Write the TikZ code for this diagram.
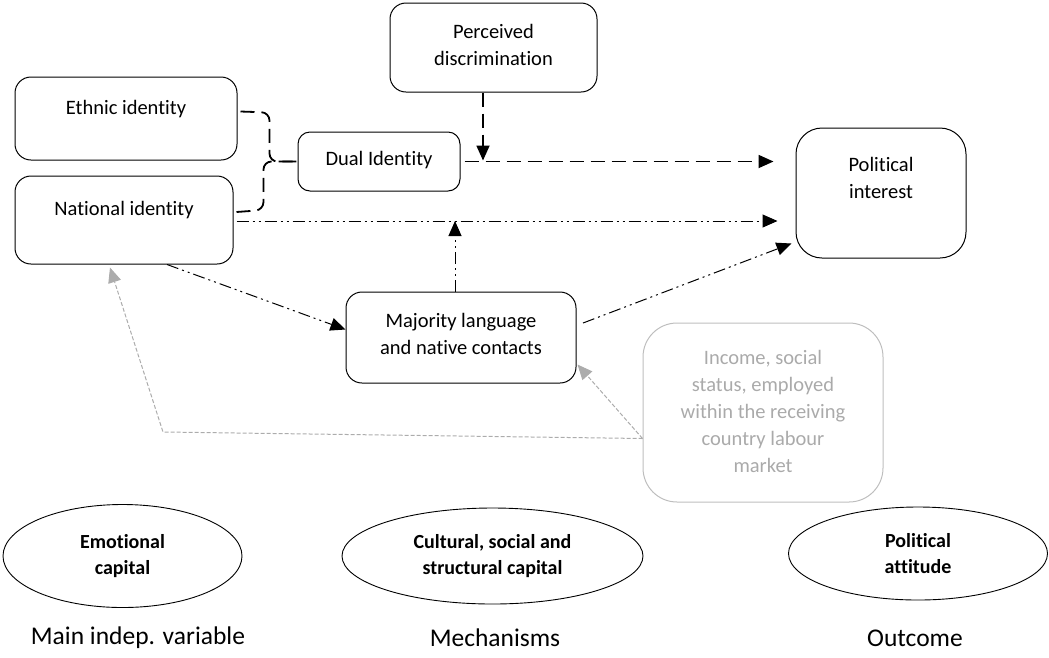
\documentclass[tikz,border=0pt]{standalone}
\usepackage{fontspec}
\setmainfont{Carlito}[Ligatures={NoCommon}]
\usetikzlibrary{arrows.meta,shapes.geometric}

\definecolor{linkgray}{RGB}{172,172,172}
\definecolor{softgray}{RGB}{190,190,190}
\definecolor{softtext}{RGB}{170,170,170}

\begin{document}
\begin{tikzpicture}[x=1pt,y=-1pt,
  box/.style={draw=black, line width=1pt, rounded corners=16pt, inner sep=0pt},
  txt/.style={font=\fontsize{20.5}{27}\selectfont, align=center, inner sep=0pt},
  capital/.style={draw=black, ellipse, line width=0.9pt, inner sep=0pt,
    font=\fontsize{20}{25.5}\selectfont\bfseries, align=center},
  caption/.style={font=\fontsize{25.5}{30}\selectfont, inner sep=0pt},
  tip/.style={-{Triangle[length=15pt,width=13pt]}},
  bracelink/.style={line width=1.8pt, dash pattern=on 14pt off 7pt},
  dashlink/.style={bracelink, tip},
  dotlink/.style={line width=1pt,
    dash pattern=on 12pt off 4pt on 2pt off 4pt on 2pt off 4pt, tip},
  graylink/.style={draw=linkgray, line width=1pt, dash pattern=on 4pt off 2pt,
    -{Triangle[length=15pt,width=13pt,fill=linkgray]}}
]
\useasboundingbox (0,0) rectangle (1049,657);

% boxes
\node[box, minimum width=222pt, minimum height=83pt] (ethnic) at (126,118.5) {};
\node[box, minimum width=218pt, minimum height=88pt] (national) at (124,220) {};
\node[box, rounded corners=12pt, minimum width=162pt, minimum height=59pt] (dual) at (379,161.5) {};
\node[box, minimum width=207pt, minimum height=89pt] (perceived) at (493.5,47.5) {};
\node[box, rounded corners=26pt, minimum width=170pt, minimum height=130pt] (pi) at (881,193) {};
\node[box, minimum width=230pt, minimum height=91pt] (majority) at (461,337.5) {};
\node[box, draw=softgray, rounded corners=34pt, minimum width=240pt, minimum height=179pt] (income) at (763,412.5) {};

% box texts
\node[txt] (ethnictxt) at ([yshift=9.5pt]ethnic.center) {Ethnic identity};
\node[txt] (nationaltxt) at ([yshift=10pt]national.center) {National identity};
\node[txt] (dualtxt) at ([yshift=1.5pt]dual.center) {Dual Identity};
\node[txt] (perceivedtxt) at ([yshift=2.5pt]perceived.center) {Perceived\\discrimination};
\node[txt] (pitxt) at ([yshift=15pt]pi.center) {Political\\interest};
\node[txt] (majoritytxt) at ([yshift=4pt]majority.center) {Majority language\\and native contacts};
\node[txt, text=softtext] (incometxt) at ([yshift=1.5pt]income.center)
  {Income, social\\status, employed\\within the receiving\\country labour\\market};

% identity brace into dual identity
\draw[bracelink, rounded corners=8pt] ([xshift=3pt,yshift=7pt]ethnic.east) -- ++(29,1) |- (dual.west);
\draw[bracelink, rounded corners=8pt] ([xshift=3pt,yshift=8pt]national.east) -- ++(27,-2) |- (dual.west);

% dashed paths
\draw[dashlink, shorten <=4pt, shorten >=22pt] (dual.east) -- (dual.east -| pi.west);
\draw[dashlink, shorten >=1pt] ([xshift=-10.5pt]perceived.south) -- ([xshift=-10.5pt]perceived.south |- dual.east);

% dash-dot-dot paths
\draw[dotlink, shorten <=3pt, shorten >=18pt] ([yshift=-1pt]national.east) -- ([yshift=-1pt]national.east -| pi.west);
\draw[dotlink, shorten >=1pt] ([xshift=-6pt]majority.north) -- ([xshift=-6pt]majority.north |- national.east);
\draw[dotlink] ([xshift=43pt]national.south) -- ([yshift=8pt]majority.west);
\draw[dotlink, shorten <=7pt] ([yshift=12pt]majority.east) -- ([xshift=-4pt,yshift=15pt]pi.south west);

% grey control paths
\coordinate (elbow) at (163,432);
\draw[graylink] ([yshift=-26pt]income.west) -- (elbow) -- ([xshift=-14pt,yshift=-3pt]national.south);
\draw[graylink] ([yshift=-26pt]income.west) -- ([xshift=1pt,yshift=19pt]majority.south east);

% capital types
\node[capital, minimum width=239pt, minimum height=103pt] (emo) at (122.5,556) {Emotional\\capital};
\node[capital, minimum width=301pt, minimum height=96pt] (cult) at (492.5,556) {Cultural, social and\\structural capital};
\node[capital, minimum width=259pt, minimum height=93pt] (pol) at (918,553.5) {Political\\attitude};

% column captions
\node[caption] (cap1) at (138,638) {Main indep. variable};
\node[caption] (cap2) at (495,638) {Mechanisms};
\node[caption] (cap3) at (915,638) {Outcome};
\end{tikzpicture}
\end{document}
